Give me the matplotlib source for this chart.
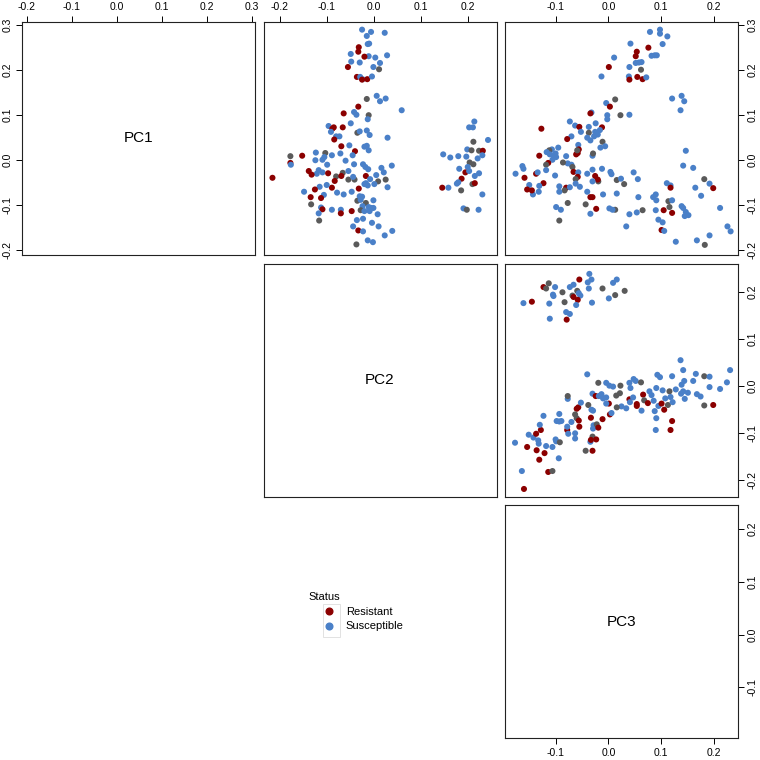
import matplotlib.pyplot as plt
from matplotlib.lines import Line2D
from matplotlib.patches import Rectangle

plt.rcParams['font.family'] = ['Liberation Sans', 'DejaVu Sans']
plt.rcParams['font.size'] = 7.5

# status codes: R = Resistant, S = Susceptible, N = not typed (grey)
status_colors = {'R': '#8B0000', 'S': '#4A80C8', 'N': '#5A5A5A'}
legend_labels = ['Resistant', 'Susceptible']

variables = ['PC1', 'PC2', 'PC3']
limits = {'PC1': (-0.2105, 0.307), 'PC2': (-0.234, 0.260), 'PC3': (-0.196, 0.246)}
ticks = {'PC1': [-0.2, -0.1, 0.0, 0.1, 0.2, 0.3],
         'PC2': [-0.2, -0.1, 0.0, 0.1, 0.2],
         'PC3': [-0.1, 0.0, 0.1, 0.2]}

# upper panels: (x, y, status)
pc2_pc1 = [  # x = PC2, y = PC1
    (-0.025, 0.290, 'S'), (-0.006, 0.285, 'S'), (-0.015, 0.276, 'S'), (0.023, 0.283, 'S'),
    (-0.010, 0.259, 'S'), (-0.013, 0.258, 'S'), (-0.032, 0.251, 'R'), (-0.033, 0.241, 'R'),
    (-0.049, 0.236, 'S'), (-0.011, 0.231, 'S'), (-0.020, 0.230, 'R'), (0.003, 0.228, 'S'),
    (0.028, 0.233, 'S'), (-0.048, 0.219, 'S'), (-0.030, 0.217, 'S'), (0.013, 0.216, 'S'),
    (-0.055, 0.207, 'R'), (-0.001, 0.207, 'S'), (0.011, 0.202, 'N'), (-0.036, 0.185, 'R'),
    (-0.029, 0.185, 'S'), (-0.024, 0.180, 'S'), (-0.014, 0.180, 'R'), (-0.025, 0.179, 'R'),
    (-0.004, 0.186, 'S'),
    (-0.015, 0.136, 'N'), (0.006, 0.143, 'S'), (0.013, 0.131, 'S'), (0.025, 0.137, 'S'),
    (0.059, 0.111, 'S'), (-0.033, 0.119, 'R'), (-0.064, 0.104, 'R'), (-0.042, 0.107, 'S'),
    (-0.037, 0.101, 'S'), (-0.011, 0.100, 'N'), (-0.013, 0.091, 'S'), (-0.049, 0.082, 'S'),
    (-0.096, 0.076, 'S'), (-0.085, 0.073, 'R'), (-0.088, 0.070, 'R'), (-0.066, 0.073, 'R'),
    (-0.091, 0.063, 'S'), (-0.080, 0.053, 'S'), (-0.073, 0.053, 'S'), (-0.084, 0.046, 'R'),
    (-0.035, 0.061, 'N'), (-0.030, 0.064, 'S'), (-0.015, 0.066, 'S'), (-0.009, 0.056, 'S'),
    (0.029, 0.050, 'S'),
    (-0.069, 0.031, 'R'), (-0.052, 0.033, 'S'), (-0.020, 0.030, 'S'), (-0.015, 0.032, 'S'),
    (-0.011, 0.022, 'S'), (-0.040, 0.020, 'R'), (-0.045, 0.011, 'S'), (-0.071, 0.015, 'S'),
    (-0.089, 0.011, 'S'), (-0.103, 0.016, 'N'), (-0.123, 0.017, 'S'), (-0.105, 0.007, 'S'),
    (-0.109, 0.001, 'S'), (-0.124, 0.000, 'S'), (-0.099, -0.010, 'S'), (-0.117, -0.022, 'S'),
    (-0.109, -0.027, 'S'), (-0.121, -0.030, 'S'), (-0.060, -0.001, 'S'), (-0.042, -0.009, 'S'),
    (-0.023, -0.009, 'S'), (-0.018, -0.015, 'S'), (-0.012, -0.020, 'S'), (-0.152, 0.010, 'R'),
    (-0.177, 0.009, 'N'), (-0.177, -0.006, 'R'), (-0.176, -0.010, 'S'), (-0.215, -0.039, 'R'),
    (-0.138, -0.024, 'R'), (-0.132, -0.032, 'R'), (-0.097, -0.029, 'R'), (-0.080, -0.036, 'N'),
    (-0.066, -0.028, 'N'), (-0.069, -0.035, 'R'), (-0.083, -0.046, 'R'), (-0.054, -0.024, 'S'),
    (-0.054, -0.043, 'N'), (-0.041, -0.043, 'N'), (-0.044, -0.037, 'S'), (-0.017, -0.035, 'R'),
    (-0.008, -0.042, 'S'), (0.005, -0.033, 'S'), (0.016, -0.017, 'S'), (0.021, -0.027, 'S'),
    (0.009, -0.047, 'N'), (0.025, -0.043, 'N'), (0.029, -0.060, 'S'), (0.038, -0.012, 'S'),
    (0.001, -0.053, 'S'), (-0.017, -0.051, 'S'), (-0.013, -0.056, 'S'), (-0.032, -0.063, 'R'),
    (-0.020, -0.053, 'S'), (-0.047, -0.070, 'S'), (-0.064, -0.076, 'S'), (-0.078, -0.072, 'S'),
    (-0.089, -0.061, 'R'), (-0.100, -0.055, 'S'), (-0.115, -0.059, 'S'), (-0.125, -0.065, 'R'),
    (-0.148, -0.070, 'S'), (-0.106, -0.077, 'S'), (-0.134, -0.082, 'R'), (-0.112, -0.084, 'R'),
    (-0.133, -0.098, 'N'), (-0.112, -0.105, 'S'), (-0.109, -0.109, 'R'), (-0.117, -0.118, 'S'),
    (-0.116, -0.134, 'N'), (-0.089, -0.110, 'S'), (-0.070, -0.110, 'S'), (-0.070, -0.118, 'R'),
    (-0.047, -0.113, 'R'), (-0.035, -0.090, 'N'), (-0.030, -0.080, 'S'), (-0.025, -0.081, 'S'),
    (-0.028, -0.088, 'S'), (-0.017, -0.095, 'N'), (-0.024, -0.102, 'S'), (-0.028, -0.111, 'N'),
    (-0.020, -0.113, 'S'), (-0.011, -0.104, 'S'), (-0.006, -0.106, 'S'), (-0.001, -0.106, 'S'),
    (-0.001, -0.089, 'S'), (-0.009, -0.113, 'S'), (0.008, -0.120, 'S'), (-0.023, -0.130, 'S'),
    (-0.036, -0.133, 'S'), (-0.004, -0.139, 'S'), (-0.044, -0.147, 'S'), (-0.033, -0.156, 'R'),
    (-0.023, -0.158, 'S'), (0.010, -0.147, 'S'), (0.039, -0.157, 'S'), (0.023, -0.167, 'S'),
    (-0.013, -0.178, 'S'), (-0.002, -0.182, 'S'), (-0.037, -0.187, 'N'),
    (0.213, 0.086, 'S'), (0.202, 0.073, 'S'), (0.210, 0.073, 'S'), (0.242, 0.045, 'S'),
    (0.211, 0.041, 'N'), (0.198, 0.024, 'S'), (0.207, 0.022, 'N'), (0.223, 0.021, 'N'),
    (0.231, 0.021, 'R'), (0.230, 0.011, 'S'), (0.147, 0.013, 'S'), (0.162, 0.006, 'S'),
    (0.179, 0.009, 'S'), (0.196, 0.008, 'S'), (0.220, 0.004, 'S'), (0.203, -0.005, 'N'),
    (0.211, -0.009, 'N'), (0.181, -0.019, 'S'), (0.199, -0.015, 'S'), (0.194, -0.027, 'R'),
    (0.202, -0.024, 'S'), (0.223, -0.029, 'S'), (0.214, -0.035, 'S'), (0.186, -0.041, 'R'),
    (0.179, -0.049, 'S'), (0.176, -0.052, 'S'), (0.209, -0.053, 'N'), (0.214, -0.051, 'R'),
    (0.145, -0.061, 'R'), (0.158, -0.061, 'S'), (0.185, -0.067, 'N'), (0.230, -0.076, 'S'),
    (0.190, -0.107, 'S'), (0.197, -0.110, 'N'), (0.222, -0.110, 'S'),
]

pc3_pc1 = [  # x = PC3, y = PC1
    (0.079, 0.285, 'S'), (0.098, 0.290, 'S'), (0.098, 0.281, 'S'), (0.112, 0.275, 'S'),
    (0.042, 0.259, 'S'), (0.076, 0.250, 'R'), (0.103, 0.258, 'S'), (0.054, 0.241, 'R'),
    (0.052, 0.231, 'R'), (0.011, 0.228, 'S'), (0.082, 0.232, 'S'), (0.088, 0.233, 'S'),
    (0.092, 0.233, 'S'), (0.052, 0.216, 'S'), (0.058, 0.217, 'S'), (0.063, 0.218, 'S'),
    (0.001, 0.207, 'R'), (0.040, 0.207, 'S'), (0.062, 0.201, 'N'), (-0.013, 0.186, 'S'),
    (0.039, 0.186, 'S'), (0.040, 0.179, 'R'), (0.055, 0.185, 'R'), (0.065, 0.180, 'R'),
    (0.072, 0.184, 'S'),
    (0.139, 0.143, 'S'), (0.121, 0.137, 'S'), (0.144, 0.131, 'S'), (0.137, 0.111, 'S'),
    (0.013, 0.135, 'N'), (-0.004, 0.127, 'S'), (0.003, 0.119, 'R'), (-0.032, 0.106, 'S'),
    (-0.034, 0.104, 'R'), (0.023, 0.100, 'N'), (0.040, 0.101, 'S'), (-0.002, 0.100, 'S'),
    (-0.002, 0.091, 'S'), (-0.024, 0.082, 'S'), (-0.073, 0.086, 'S'), (-0.063, 0.077, 'S'),
    (-0.055, 0.074, 'R'), (-0.037, 0.074, 'S'), (-0.012, 0.073, 'R'), (-0.127, 0.070, 'R'),
    (-0.016, 0.067, 'S'), (-0.025, 0.063, 'S'), (-0.037, 0.061, 'N'), (-0.052, 0.063, 'S'),
    (-0.020, 0.057, 'S'), (-0.027, 0.053, 'S'), (-0.070, 0.053, 'S'), (-0.078, 0.047, 'R'),
    (-0.040, 0.050, 'S'),
    (-0.034, 0.044, 'S'), (-0.011, 0.041, 'N'), (-0.006, 0.031, 'S'), (-0.015, 0.028, 'S'),
    (-0.095, 0.028, 'S'), (-0.057, 0.034, 'S'), (-0.056, 0.024, 'R'), (-0.058, 0.016, 'R'),
    (-0.061, 0.013, 'R'), (-0.059, 0.022, 'N'), (-0.107, 0.024, 'S'), (-0.112, 0.022, 'N'),
    (-0.117, 0.018, 'S'), (-0.111, 0.013, 'S'), (-0.104, 0.011, 'S'), (-0.100, 0.015, 'S'),
    (-0.099, 0.007, 'S'), (-0.106, 0.001, 'S'), (-0.114, -0.006, 'R'), (-0.118, -0.010, 'N'),
    (-0.131, 0.010, 'R'), (-0.080, 0.009, 'S'), (-0.077, -0.007, 'S'), (-0.070, -0.010, 'S'),
    (-0.086, -0.005, 'N'), (-0.068, -0.015, 'N'), (-0.066, -0.026, 'R'), (-0.057, -0.027, 'S'),
    (-0.058, -0.037, 'R'), (-0.062, -0.042, 'N'), (-0.062, -0.052, 'S'), (-0.054, -0.059, 'S'),
    (-0.030, 0.010, 'S'), (-0.029, 0.015, 'N'), (-0.025, -0.035, 'R'), (-0.019, -0.047, 'N'),
    (-0.020, -0.043, 'R'), (-0.040, -0.030, 'S'), (-0.030, -0.021, 'S'), (-0.030, -0.047, 'S'),
    (-0.012, -0.019, 'S'), (0.004, -0.026, 'S'), (0.006, -0.031, 'S'), (-0.010, -0.076, 'S'),
    (-0.040, -0.070, 'S'), (-0.034, -0.082, 'R'), (-0.030, -0.082, 'R'), (-0.023, -0.108, 'R'),
    (-0.043, -0.098, 'N'), (-0.034, -0.119, 'S'), (-0.077, -0.095, 'N'), (-0.090, -0.110, 'S'),
    (-0.099, -0.104, 'S'), (-0.093, -0.134, 'N'), (-0.080, -0.061, 'R'), (-0.083, -0.067, 'N'),
    (-0.093, -0.058, 'S'), (-0.093, -0.070, 'S'), (-0.073, -0.060, 'S'), (-0.101, -0.034, 'S'),
    (-0.123, -0.051, 'R'), (-0.131, -0.057, 'S'), (-0.132, -0.070, 'S'), (-0.143, -0.076, 'S'),
    (-0.150, -0.055, 'S'), (-0.154, -0.065, 'R'), (-0.145, -0.067, 'R'), (-0.159, -0.039, 'R'),
    (-0.176, -0.030, 'S'), (-0.163, -0.013, 'S'), (-0.161, -0.019, 'S'), (-0.137, -0.030, 'R'),
    (-0.134, -0.027, 'S'), (-0.118, -0.022, 'S'),
    (0.016, -0.074, 'S'), (0.016, -0.044, 'N'), (0.024, -0.041, 'S'), (0.030, -0.053, 'N'),
    (0.048, -0.027, 'S'), (0.056, -0.042, 'S'), (0.057, -0.082, 'S'), (0.013, -0.110, 'N'),
    (0.008, -0.110, 'S'), (0.002, -0.107, 'S'), (0.040, -0.120, 'S'), (0.054, -0.116, 'S'),
    (0.065, -0.111, 'N'), (0.034, -0.147, 'S'), (0.085, -0.082, 'S'), (0.090, -0.076, 'S'),
    (0.091, -0.089, 'S'), (0.111, -0.051, 'S'), (0.118, -0.056, 'S'), (0.118, -0.061, 'R'),
    (0.114, -0.091, 'N'), (0.116, -0.104, 'N'), (0.121, -0.089, 'S'), (0.105, -0.111, 'R'),
    (0.121, -0.117, 'R'), (0.090, -0.111, 'S'), (0.095, -0.132, 'S'), (0.103, -0.138, 'S'),
    (0.101, -0.155, 'R'), (0.106, -0.157, 'S'), (0.128, -0.181, 'S'), (0.139, -0.102, 'S'),
    (0.142, -0.106, 'S'), (0.147, -0.115, 'S'), (0.145, -0.124, 'S'), (0.152, -0.122, 'S'),
    (0.142, -0.012, 'S'), (0.147, 0.021, 'S'), (0.161, -0.017, 'S'), (0.165, -0.061, 'S'),
    (0.176, -0.079, 'S'), (0.182, -0.042, 'N'), (0.192, -0.052, 'S'), (0.199, -0.062, 'R'),
    (0.168, -0.178, 'S'), (0.192, -0.167, 'S'), (0.183, -0.188, 'N'), (0.212, -0.106, 'S'),
    (0.226, -0.147, 'S'), (0.232, -0.158, 'S'),
]

pc3_pc2 = [  # x = PC3, y = PC2
    (-0.036, 0.238, 'S'), (-0.055, 0.226, 'R'), (-0.032, 0.226, 'S'), (-0.039, 0.220, 'S'),
    (0.016, 0.226, 'S'), (0.009, 0.219, 'S'), (-0.113, 0.218, 'N'), (-0.123, 0.210, 'R'),
    (-0.118, 0.207, 'N'), (-0.101, 0.210, 'S'), (-0.073, 0.210, 'S'), (-0.066, 0.215, 'S'),
    (-0.037, 0.207, 'S'), (-0.011, 0.207, 'N'), (0.031, 0.202, 'N'), (-0.087, 0.199, 'N'),
    (-0.059, 0.202, 'N'), (-0.056, 0.197, 'S'), (-0.105, 0.194, 'S'), (-0.104, 0.191, 'S'),
    (-0.068, 0.192, 'N'), (-0.066, 0.189, 'R'), (-0.053, 0.192, 'S'), (0.013, 0.193, 'N'),
    (0.001, 0.186, 'S'), (-0.161, 0.176, 'S'), (-0.145, 0.179, 'R'), (-0.112, 0.175, 'S'),
    (-0.083, 0.178, 'N'), (-0.058, 0.183, 'R'), (-0.061, 0.172, 'S'), (-0.031, 0.177, 'S'),
    (-0.080, 0.157, 'S'), (-0.073, 0.153, 'S'), (-0.111, 0.143, 'S'), (-0.079, 0.141, 'R'),
    (0.137, 0.055, 'S'), (0.142, 0.034, 'S'), (0.166, 0.026, 'S'), (0.121, 0.021, 'S'),
    (0.093, 0.024, 'S'), (0.098, 0.019, 'S'), (0.182, 0.021, 'N'), (0.192, 0.020, 'S'),
    (0.231, 0.034, 'S'), (0.225, 0.008, 'S'), (0.144, 0.011, 'S'), (0.161, 0.011, 'S'),
    (-0.040, 0.025, 'S'), (-0.019, 0.007, 'N'), (-0.004, 0.007, 'S'), (0.040, 0.007, 'S'),
    (0.048, 0.015, 'S'), (0.052, 0.011, 'S'), (0.062, 0.008, 'N'),
    (0.002, 0.001, 'S'), (0.009, -0.001, 'S'), (0.042, -0.004, 'S'),
    (-0.177, -0.120, 'S'), (-0.164, -0.180, 'S'), (-0.160, -0.218, 'R'), (-0.154, -0.129, 'R'),
    (-0.151, -0.103, 'S'), (-0.142, -0.109, 'S'), (-0.137, -0.101, 'R'), (-0.128, -0.093, 'R'),
    (-0.130, -0.082, 'S'), (-0.133, -0.115, 'S'), (-0.132, -0.122, 'S'), (-0.136, -0.136, 'R'),
    (-0.131, -0.156, 'R'), (-0.121, -0.142, 'R'), (-0.118, -0.127, 'S'), (-0.114, -0.182, 'R'),
    (-0.106, -0.180, 'N'), (-0.106, -0.129, 'S'), (-0.100, -0.113, 'S'), (-0.099, -0.117, 'S'),
    (-0.092, -0.119, 'N'), (-0.094, -0.153, 'S'), (-0.123, -0.063, 'S'), (-0.098, -0.074, 'S'),
    (-0.093, -0.059, 'S'), (-0.093, -0.075, 'S'), (-0.089, -0.074, 'S'), (-0.078, -0.093, 'R'),
    (-0.078, -0.086, 'S'), (-0.076, -0.101, 'S'), (-0.063, -0.100, 'S'), (-0.063, -0.111, 'S'),
    (-0.070, -0.076, 'S'), (-0.077, -0.027, 'S'), (-0.077, -0.021, 'N'), (-0.060, -0.048, 'R'),
    (-0.057, -0.045, 'R'), (-0.063, -0.060, 'N'), (-0.060, -0.068, 'N'), (-0.056, -0.073, 'R'),
    (-0.055, -0.086, 'R'), (-0.052, -0.035, 'S'), (-0.038, -0.040, 'N'), (-0.030, -0.016, 'S'),
    (-0.032, -0.050, 'S'), (-0.033, -0.067, 'R'), (-0.029, -0.052, 'S'), (-0.028, -0.083, 'S'),
    (-0.029, -0.090, 'S'), (-0.022, -0.081, 'N'), (-0.019, -0.088, 'R'), (-0.030, -0.107, 'N'),
    (-0.034, -0.118, 'S'), (-0.033, -0.114, 'R'), (-0.023, -0.113, 'R'), (-0.043, -0.137, 'N'),
    (-0.030, -0.137, 'R'), (-0.024, -0.021, 'R'), (-0.018, -0.021, 'S'), (-0.011, -0.070, 'R'),
    (0.003, -0.060, 'R'), (0.001, -0.037, 'R'), (0.006, -0.057, 'S'), (-0.004, -0.037, 'S'),
    (-0.013, -0.017, 'S'), (-0.010, -0.026, 'S'), (-0.004, -0.024, 'S'), (0.015, -0.020, 'N'),
    (0.022, -0.015, 'N'), (0.025, -0.043, 'S'), (0.016, -0.045, 'N'), (0.034, -0.047, 'S'),
    (0.040, -0.028, 'R'), (0.041, -0.034, 'S'), (0.047, -0.024, 'S'), (0.054, -0.038, 'R'),
    (0.054, -0.042, 'R'), (0.063, -0.052, 'S'), (0.066, -0.018, 'R'), (0.068, -0.030, 'N'),
    (0.075, -0.036, 'R'), (0.078, -0.011, 'S'), (0.082, -0.019, 'S'), (0.086, -0.031, 'S'),
    (0.088, -0.053, 'S'), (0.091, -0.068, 'S'), (0.090, -0.093, 'S'), (0.091, -0.004, 'S'),
    (0.095, -0.042, 'S'), (0.101, -0.037, 'R'), (0.106, -0.050, 'R'), (0.103, -0.009, 'S'),
    (0.108, -0.026, 'S'), (0.113, -0.040, 'N'), (0.116, -0.011, 'N'), (0.118, -0.023, 'S'),
    (0.121, -0.074, 'R'), (0.118, -0.093, 'R'), (0.122, -0.034, 'S'), (0.128, -0.007, 'S'),
    (0.138, -0.016, 'S'), (0.142, -0.011, 'S'), (0.145, -0.027, 'S'), (0.151, -0.014, 'S'),
    (0.139, 0.003, 'S'), (0.168, -0.017, 'S'), (0.175, -0.022, 'S'), (0.182, -0.041, 'N'),
    (0.192, -0.002, 'S'), (0.199, -0.040, 'R'), (0.212, -0.006, 'S'), (0.023, 0.001, 'N'),
]

fig = plt.figure(figsize=(7.6, 7.6), dpi=100)

# panel grid in pixels: 22 px margin, 233 px panels, ~8 px gaps
W = 760.0
def panel(row, col):
    left = 22 + col * 241.5
    top = 22 + row * 241.5
    return fig.add_axes([left / W, 1 - (top + 233) / W, 233 / W, 233 / W])

def style_axes(ax, xvar, yvar, top=False, bottom=False, left=False, right=False):
    ax.set_xlim(limits[xvar])
    ax.set_ylim(limits[yvar])
    ax.set_xticks(ticks[xvar])
    ax.set_yticks(ticks[yvar])
    ax.set_xticklabels([f"{t:.1f}" for t in ticks[xvar]])
    ax.set_yticklabels([f"{t:.1f}" for t in ticks[yvar]])
    ax.tick_params(axis='x', top=top, labeltop=top, bottom=bottom, labelbottom=bottom,
                   direction='out', length=4.5, width=0.7, pad=2.5)
    ax.tick_params(axis='y', left=left, labelleft=left, right=right, labelright=right,
                   direction='out', length=4.5, width=0.7, pad=2.5, labelrotation=90)
    for t in ax.yaxis.get_major_ticks():
        t.label1.set_va('center')
        t.label2.set_va('center')
    for s in ax.spines.values():
        s.set_linewidth(0.8)
        s.set_color('#222222')

for i, var in enumerate(variables):
    ax = panel(i, i)
    ax.text(0.5, 0.5, var, transform=ax.transAxes, ha='center', va='center', fontsize=11)
    if i == 0:
        style_axes(ax, var, var, top=True, left=True)
    elif i == 2:
        style_axes(ax, var, var, bottom=True, right=True)
    else:
        style_axes(ax, var, var)

upper = [(0, 1, pc2_pc1, 'PC2', 'PC1'),
         (0, 2, pc3_pc1, 'PC3', 'PC1'),
         (1, 2, pc3_pc2, 'PC3', 'PC2')]
for row, col, pts, xvar, yvar in upper:
    ax = panel(row, col)
    xs = [p[0] for p in pts]
    ys = [p[1] for p in pts]
    cs = [status_colors[p[2]] for p in pts]
    ax.scatter(xs, ys, c=cs, s=19, edgecolors='none')
    style_axes(ax, xvar, yvar, top=(row == 0), right=(col == 2))

# legend: title text, faint grid box around the keys, entries
fig.text(308 / W, 1 - 597 / W, 'Status', ha='left', va='center', fontsize=8)
fig.add_artist(Rectangle((322.5 / W, 1 - 637 / W), 17 / W, 33 / W, transform=fig.transFigure,
                         fill=False, edgecolor='#DDDDDD', linewidth=0.6))
handles = [Line2D([], [], marker='o', ls='', color=status_colors[k], markersize=4.8, label=l)
           for k, l in zip(['R', 'S'], legend_labels)]
fig.legend(handles=handles, loc='upper left', bbox_to_anchor=(317.5 / W, 1 - 607 / W),
           frameon=False, fontsize=8, handletextpad=0.5, handlelength=2.06,
           labelspacing=0.4, borderpad=0, borderaxespad=0)

fig.savefig('out.png', dpi=100)
